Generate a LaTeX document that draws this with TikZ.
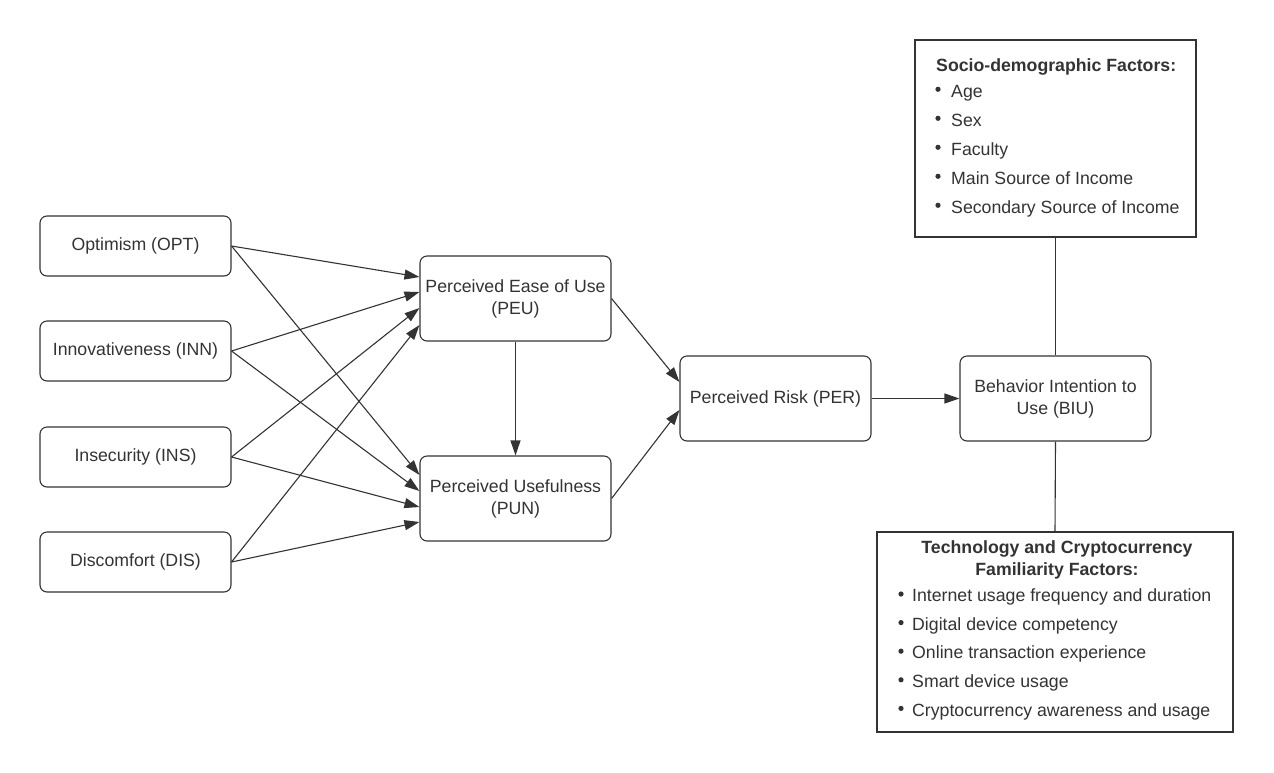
\documentclass[tikz,border=0pt]{standalone}
\usepackage{fontspec}
\setmainfont{Liberation Sans}
\usetikzlibrary{arrows.meta}
\definecolor{ink}{HTML}{333333}
\begin{document}
\begin{tikzpicture}[x=1pt,y=-1pt,
  every node/.style={text=ink, font=\fontsize{17.7}{22}\selectfont},
  box/.style={draw=ink, line width=1.1pt, rounded corners=7pt, minimum width=191pt,
    minimum height=60pt, inner sep=0pt, align=center},
  bigbox/.style={box, minimum height=85pt},
  panel/.style={draw=ink, line width=1.1pt, inner sep=0pt},
  link/.style={draw=ink, line width=1.1pt, -{Triangle[length=15pt,width=10pt]}},
  plain/.style={draw=ink, line width=1.1pt},
  item/.style={anchor=base west, inner sep=0pt},
  head/.style={anchor=base, inner sep=0pt, font=\fontsize{17.7}{22}\selectfont\bfseries},
  dot/.style={fill=ink},
]
\useasboundingbox (0,0) rectangle (1274,772);

% predictor constructs
\node[box] (OPT) at (135.5,246) {Optimism (OPT)};
\node[box] (INN) at (135.5,351) {Innovativeness (INN)};
\node[box] (INS) at (135.5,457) {Insecurity (INS)};
\node[box] (DIS) at (135.5,562) {Discomfort (DIS)};

% mediating constructs
\node[bigbox] (PEU) at (515.5,298.5) {Perceived Ease of Use\\(PEU)};
\node[bigbox] (PUN) at (515.5,498.5) {Perceived Usefulness\\(PUN)};
\node[bigbox] (PER) at (775.5,398.5) {Perceived Risk (PER)};
\node[bigbox] (BIU) at (1055.5,398.5) {Behavior Intention to\\Use (BIU)};

% control factor panels
\node[panel, minimum width=281pt, minimum height=197pt] (SOC) at (1055.5,138.5) {};
\node[panel, minimum width=356pt, minimum height=200pt] (TEC) at (1055,632) {};

\node[item, font=\fontsize{17.7}{22}\selectfont\bfseries] (soc0) at (936,71) {Socio-demographic Factors:};
\foreach \t [count=\i] in {Age, Sex, Faculty, Main Source of Income, Secondary Source of Income}{
  \pgfmathsetmacro{\yb}{97+29*(\i-1)}
  \fill[dot] (938,\yb-7.7) circle (2.6);
  \node[item] (soc\i) at (951,\yb) {\t};
}

\node[head] (tec0) at (1057,553) {Technology and Cryptocurrency};
\node[head] (tec00) at (1057,575) {Familiarity Factors:};
\foreach \t [count=\i] in {Internet usage frequency and duration, Digital device competency,
    Online transaction experience, Smart device usage, Cryptocurrency awareness and usage}{
  \pgfmathsetmacro{\yb}{601.7+28.6*(\i-1)}
  \fill[dot] (901,\yb-7.7) circle (2.6);
  \node[item] (tec\i) at (912,\yb) {\t};
}

% paths into PEU
\draw[link] (OPT.east) -- ([yshift=21.5pt]PEU.west);
\draw[link] (INN.east) -- ([yshift=6.5pt]PEU.west);
\draw[link] (INS.east) -- ([yshift=-9.5pt]PEU.west);
\draw[link] (DIS.east) -- ([yshift=-26.5pt]PEU.west);

% paths into PUN
\draw[link] (OPT.east) -- ([yshift=23.5pt]PUN.west);
\draw[link] (INN.east) -- ([yshift=7.5pt]PUN.west);
\draw[link] (INS.east) -- ([yshift=-8.5pt]PUN.west);
\draw[link] (DIS.east) -- ([yshift=-23.5pt]PUN.west);

% structural paths
\draw[link] (PEU.south) -- (PUN.north);
\draw[link] (PEU.east) -- ([yshift=16.5pt]PER.west);
\draw[link] (PUN.east) -- ([yshift=-11.5pt]PER.west);
\draw[link] (PER.east) -- (BIU.west);

% control factor links
\draw[plain] (BIU.north) -- (SOC.south);
\draw[plain] (BIU.south) -- (TEC.north);
\end{tikzpicture}
\end{document}
